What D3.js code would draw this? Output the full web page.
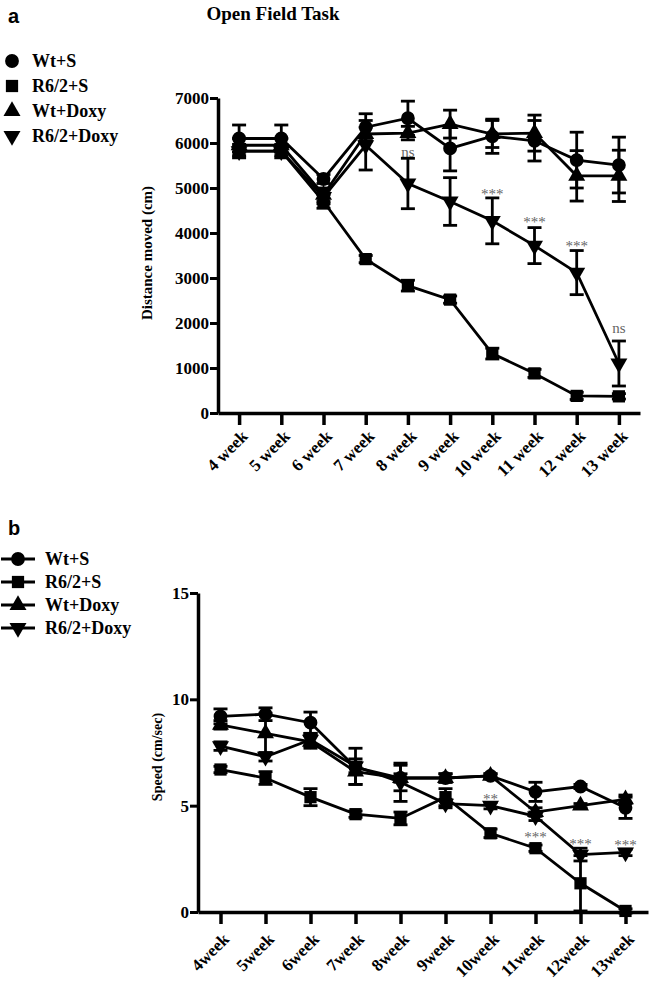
<!DOCTYPE html>
<html>
<head>
<meta charset="utf-8">
<script src="https://cdn.jsdelivr.net/npm/d3@7"></script>
<style>
  body { margin: 0; background: #fff; }
  svg { display: block; }
  text { font-family: "Liberation Serif", "Times New Roman", serif; font-weight: bold; }
  .panel-letter { font-family: "Liberation Sans", Arial, sans-serif; font-size: 20px; }
  .star { fill: #666; font-weight: normal; font-size: 15px; }
</style>
</head>
<body>
<svg id="chart" width="649" height="986"></svg>
<script>
// series names shared by both panels
const groups = ["Wt+S", "R6/2+S", "Wt+Doxy", "R6/2+Doxy"];
const shapes = ["circle", "square", "up", "down"];

// panel a: distance moved (cm)
const weeksA = ["4 week", "5 week", "6 week", "7 week", "8 week", "9 week", "10 week", "11 week", "12 week", "13 week"];
const distWtS = [6100, 6100, 5200, 6350, 6550, 5880, 6150, 6050, 5620, 5510];
const distWtSErr = [300, 300, 100, 300, 380, 500, 380, 450, 620, 620];
const distR6S = [5820, 5820, 4700, 3420, 2830, 2520, 1320, 880, 380, 370];
const distR6SErr = [100, 100, 150, 80, 120, 80, 120, 90, 80, 60];
const distWtDoxy = [5950, 5950, 4850, 6200, 6220, 6420, 6200, 6220, 5270, 5270];
const distWtDoxyErr = [150, 150, 150, 150, 150, 310, 300, 400, 560, 570];
const distR6Doxy = [5820, 5820, 4800, 5950, 5100, 4700, 4270, 3720, 3120, 1100];
const distR6DoxyErr = [150, 150, 150, 550, 560, 530, 510, 400, 490, 500];
const distTicks = [0, 1000, 2000, 3000, 4000, 5000, 6000, 7000];
const distNotes = [["8 week", 5800, "ns"], ["10 week", 4960, "***"], ["11 week", 4330, "***"], ["12 week", 3790, "***"], ["13 week", 1900, "ns"]];

// panel b: speed (cm/sec)
const weeksB = ["4week", "5week", "6week", "7week", "8week", "9week", "10week", "11week", "12week", "13week"];
const speedWtS = [9.2, 9.3, 8.9, 6.8, 6.3, 6.3, 6.4, 5.65, 5.9, 4.9];
const speedWtSErr = [0.35, 0.3, 0.5, 0.25, 0.2, 0.2, 0.1, 0.45, 0.1, 0.5];
const speedR6S = [6.7, 6.3, 5.4, 4.6, 4.4, 5.4, 3.7, 3.0, 1.35, 0.05];
const speedR6SErr = [0.15, 0.3, 0.4, 0.15, 0.3, 0.4, 0.2, 0.15, 1.3, 0.1];
const speedWtDoxy = [8.8, 8.4, 8.0, 6.6, 6.3, 6.3, 6.4, 4.7, 5.0, 5.3];
const speedWtDoxyErr = [0.2, 0.95, 0.3, 0.6, 0.6, 0.2, 0.1, 0.2, 0.1, 0.2];
const speedR6Doxy = [7.8, 7.3, 8.1, 6.85, 6.1, 5.1, 5.0, 4.5, 2.7, 2.8];
const speedR6DoxyErr = [0.2, 0.2, 0.3, 0.85, 0.9, 0.2, 0.15, 0.2, 0.3, 0.15];
const speedTicks = [0, 5, 10, 15];
const speedNotes = [["10week", 5.5, "**"], ["11week", 3.7, "***"], ["12week", 3.4, "***"], ["13week", 3.35, "***"]];

const svg = d3.select("#chart");

function symbolPath(shape) {
    if (shape === "circle") return d3.symbol(d3.symbolCircle, 150)();
    if (shape === "square") return d3.symbol(d3.symbolSquare, 150)();
    return d3.symbol(d3.symbolTriangle, 125)();
}

function drawMarker(g, shape, x, y) {
    g.append("path")
        .attr("d", symbolPath(shape))
        .attr("transform", "translate(" + x + "," + y + ")" + (shape === "down" ? " rotate(180)" : ""))
        .attr("fill", "#000");
}

function drawPanel(p) {
    let g = svg.append("g");

    let x = d3.scalePoint().domain(p.weeks).range(p.xRange).padding(0.5);
    let y = d3.scaleLinear().domain([0, p.yMax]).range(p.yRange);

    // axes
    let xAxis = g.append("g")
        .attr("transform", "translate(0," + p.yRange[0] + ")")
        .call(d3.axisBottom(x).tickSize(12).tickSizeOuter(0));
    xAxis.select(".domain").attr("stroke-width", 3.5);
    xAxis.selectAll(".tick line").attr("stroke-width", 3.5);
    xAxis.selectAll(".tick text")
        .attr("x", 0).attr("y", 0).attr("dy", "0.35em")
        .attr("text-anchor", "end")
        .attr("transform", "translate(" + p.labelShift[0] + "," + p.labelShift[1] + ") rotate(-45)")
        .style("font-size", "17px")
        .style("font-family", "Liberation Serif, serif");

    let yAxis = g.append("g")
        .attr("transform", "translate(" + p.xRange[0] + ",0)")
        .call(d3.axisLeft(y).tickValues(p.yTicks).tickSize(8).tickSizeOuter(0).tickFormat(d3.format("d")));
    yAxis.select(".domain").attr("stroke-width", 3.5);
    yAxis.selectAll(".tick line").attr("stroke-width", 3);
    yAxis.selectAll(".tick text")
        .attr("x", -9)
        .style("font-size", "17px")
        .style("font-family", "Liberation Serif, serif");

    g.append("text")
        .attr("transform", "translate(" + p.yTitleX + "," + p.yTitleY + ") rotate(-90)")
        .attr("text-anchor", "middle")
        .attr("dy", "0.35em")
        .style("font-size", p.yTitleSize + "px")
        .text(p.yTitle);

    // error bars first, then lines, then markers
    p.series.forEach((s) => {
        s.values.forEach((v, i) => {
            let cx = x(p.weeks[i]);
            let e = s.errors[i];
            g.append("line")
                .attr("x1", cx).attr("x2", cx)
                .attr("y1", y(v - e)).attr("y2", y(v + e))
                .attr("stroke", "#000").attr("stroke-width", 2.8);
            [v - e, v + e].forEach(c => {
                g.append("line")
                    .attr("x1", cx - 7).attr("x2", cx + 7)
                    .attr("y1", y(c)).attr("y2", y(c))
                    .attr("stroke", "#000").attr("stroke-width", 2.8);
            });
        });
    });

    let line = d3.line()
        .x((d, i) => x(p.weeks[i]))
        .y(d => y(d));

    p.series.forEach((s) => {
        g.append("path")
            .attr("d", line(s.values))
            .attr("fill", "none")
            .attr("stroke", "#000")
            .attr("stroke-width", 2.8);
    });

    p.series.forEach((s) => {
        s.values.forEach((v, i) => drawMarker(g, s.shape, x(p.weeks[i]), y(v)));
    });

    // significance marks
    p.notes.forEach(n => {
        g.append("text")
            .classed("star", true)
            .attr("x", x(n[0]))
            .attr("y", y(n[1]))
            .attr("dy", n[2] === "ns" ? "0.35em" : "0.6em")
            .attr("text-anchor", "middle")
            .text(n[2]);
    });

    // legend
    let legend = g.append("g");
    groups.forEach((name, i) => {
        let ly = p.legendY + i * p.legendStep;
        if (p.legendLine) {
            legend.append("line")
                .attr("x1", 1).attr("x2", 35)
                .attr("y1", ly).attr("y2", ly)
                .attr("stroke", "#000").attr("stroke-width", 2.8);
        }
        drawMarker(legend, shapes[i], p.legendMarkerX, ly);
        legend.append("text")
            .attr("x", p.legendTextX)
            .attr("y", ly)
            .attr("dy", "0.35em")
            .style("font-size", "18px")
            .text(name);
    });

    svg.append("text")
        .classed("panel-letter", true)
        .attr("x", 8)
        .attr("y", p.letterY)
        .text(p.letter);
}

drawPanel({
    letter: "a", letterY: 23,
    weeks: weeksA, xRange: [218, 640], yRange: [413, 98], yMax: 7000, yTicks: distTicks,
    labelShift: [5, 20],
    yTitle: "Distance moved (cm)", yTitleX: 147, yTitleY: 253, yTitleSize: 15,
    series: [
        {values: distWtS, errors: distWtSErr, shape: "circle"},
        {values: distR6S, errors: distR6SErr, shape: "square"},
        {values: distWtDoxy, errors: distWtDoxyErr, shape: "up"},
        {values: distR6Doxy, errors: distR6DoxyErr, shape: "down"}
    ],
    notes: distNotes,
    legendY: 61, legendStep: 25, legendLine: false, legendMarkerX: 12, legendTextX: 32
});

drawPanel({
    letter: "b", letterY: 535,
    weeks: weeksB, xRange: [198, 648], yRange: [912, 593], yMax: 15, yTicks: speedTicks,
    labelShift: [5, 24],
    yTitle: "Speed (cm/sec)", yTitleX: 157, yTitleY: 757, yTitleSize: 14,
    series: [
        {values: speedWtS, errors: speedWtSErr, shape: "circle"},
        {values: speedR6S, errors: speedR6SErr, shape: "square"},
        {values: speedWtDoxy, errors: speedWtDoxyErr, shape: "up"},
        {values: speedR6Doxy, errors: speedR6DoxyErr, shape: "down"}
    ],
    notes: speedNotes,
    legendY: 559, legendStep: 23, legendLine: true, legendMarkerX: 18, legendTextX: 45
});

svg.append("text")
    .attr("x", 273)
    .attr("y", 20)
    .attr("text-anchor", "middle")
    .style("font-size", "19px")
    .text("Open Field Task");
</script>
</body>
</html>
